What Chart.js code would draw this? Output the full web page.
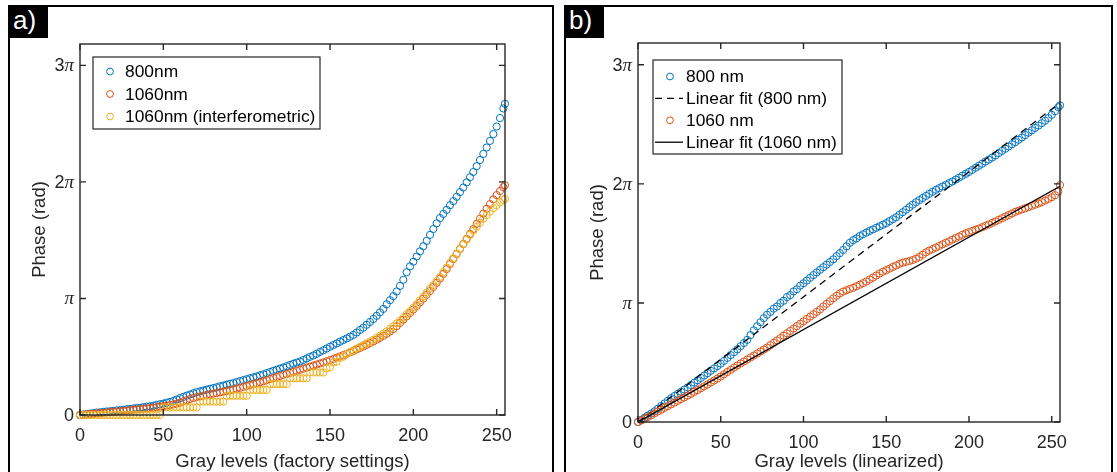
<!DOCTYPE html>
<html lang="en">
<head>
<meta charset="UTF-8">
<title>Phase vs gray levels</title>
<script src="https://cdn.jsdelivr.net/npm/chart.js@4.4.0/dist/chart.umd.min.js"></script>
<style>
  body { margin:0; background:#fff; width:1117px; height:472px; overflow:hidden; position:relative; font-family:"Liberation Sans", Arial, sans-serif; }
  .frame { position:absolute; top:5px; height:480px; border:2px solid #000; box-sizing:border-box; }
  .tag { position:absolute; top:5px; width:40px; height:33px; background:#000; color:#fff; font-size:26px; line-height:31px; padding-left:5px; box-sizing:border-box; }
  .box { position:absolute; top:0; height:472px; }
</style>
</head>
<body>
<div class="frame" style="left:8px;width:546px"></div>
<div class="frame" style="left:564px;width:549px"></div>
<div class="tag" style="left:8px">a)</div>
<div class="tag" style="left:564px">b)</div>
<div class="box" style="left:0;width:558px"><canvas id="chartA"></canvas></div>
<div class="box" style="left:558px;width:559px"><canvas id="chartB"></canvas></div>
<script>
// gray levels (every 2nd level + 255), phase values in units of pi
const grayLevels = [0,2,4,6,8,10,12,14,16,18,20,22,24,26,28,30,32,34,36,38,40,42,44,46,48,50,52,54,56,58,
  60,62,64,66,68,70,72,74,76,78,80,82,84,86,88,90,92,94,96,98,100,102,104,106,108,110,112,114,116,118,
  120,122,124,126,128,130,132,134,136,138,140,142,144,146,148,150,152,154,156,158,160,162,164,166,168,170,172,174,176,178,
  180,182,184,186,188,190,192,194,196,198,200,202,204,206,208,210,212,214,216,218,220,222,224,226,228,230,232,234,236,238,
  240,242,244,246,248,250,252,254,255];

// a) factory settings
const phase800a = [0.000,0.004,0.008,0.012,0.016,0.021,0.023,0.027,0.031,0.032,
  0.036,0.040,0.041,0.045,0.050,0.052,0.056,0.060,0.062,0.067,
  0.072,0.075,0.080,0.087,0.092,0.098,0.106,0.112,0.121,0.133,
  0.145,0.155,0.166,0.176,0.187,0.196,0.203,0.210,0.218,0.225,
  0.231,0.238,0.246,0.253,0.260,0.268,0.274,0.283,0.291,0.299,
  0.307,0.315,0.323,0.331,0.341,0.349,0.359,0.369,0.379,0.388,
  0.399,0.408,0.419,0.430,0.440,0.450,0.459,0.472,0.485,0.499,
  0.511,0.525,0.541,0.555,0.570,0.586,0.600,0.614,0.629,0.643,
  0.657,0.672,0.687,0.708,0.730,0.749,0.774,0.798,0.824,0.851,
  0.881,0.910,0.950,0.985,1.020,1.060,1.108,1.160,1.225,1.275,
  1.315,1.360,1.404,1.448,1.494,1.545,1.596,1.645,1.690,1.725,
  1.760,1.800,1.835,1.872,1.912,1.952,1.996,2.040,2.085,2.135,
  2.188,2.240,2.295,2.352,2.410,2.475,2.548,2.630,2.670];
const phase1060a = [0.000,0.003,0.005,0.008,0.011,0.013,0.016,0.019,0.021,0.024,
  0.027,0.029,0.032,0.035,0.037,0.041,0.044,0.047,0.050,0.053,
  0.056,0.059,0.063,0.068,0.072,0.076,0.080,0.085,0.090,0.098,
  0.106,0.118,0.127,0.137,0.146,0.154,0.160,0.166,0.172,0.178,
  0.183,0.188,0.194,0.200,0.206,0.212,0.219,0.226,0.233,0.241,
  0.249,0.257,0.265,0.273,0.281,0.290,0.299,0.308,0.317,0.326,
  0.335,0.344,0.352,0.361,0.370,0.379,0.388,0.397,0.406,0.415,
  0.424,0.433,0.442,0.451,0.461,0.471,0.481,0.492,0.503,0.514,
  0.525,0.537,0.549,0.562,0.575,0.588,0.602,0.616,0.631,0.646,
  0.662,0.679,0.697,0.716,0.738,0.762,0.790,0.818,0.846,0.875,
  0.905,0.935,0.966,0.998,1.031,1.064,1.099,1.134,1.170,1.210,
  1.252,1.295,1.338,1.381,1.425,1.468,1.511,1.554,1.596,1.640,
  1.684,1.728,1.770,1.810,1.850,1.887,1.922,1.955,1.972];
const phase1060i = [0,0,0,0,0,0,0,0,0,0,
  0,0,0,0,0,0,0,0,0,0,
  0,0,0,0,0,0.065,0.065,0.065,0.065,0.065,
  0.065,0.065,0.065,0.065,0.065,0.065,0.115,0.115,0.115,0.115,
  0.115,0.115,0.115,0.115,0.165,0.165,0.165,0.165,0.165,0.165,
  0.165,0.215,0.215,0.215,0.215,0.215,0.215,0.265,0.265,0.265,
  0.265,0.265,0.265,0.315,0.315,0.315,0.315,0.315,0.315,0.365,
  0.365,0.365,0.365,0.365,0.400,0.410,0.450,0.458,0.490,0.500,
  0.525,0.540,0.555,0.570,0.585,0.600,0.615,0.630,0.645,0.662,
  0.680,0.698,0.718,0.740,0.760,0.785,0.810,0.835,0.865,0.890,
  0.920,0.950,0.985,1.015,1.050,1.085,1.115,1.150,1.185,1.225,
  1.265,1.305,1.345,1.385,1.425,1.465,1.505,1.545,1.580,1.615,
  1.650,1.685,1.715,1.745,1.775,1.800,1.825,1.845,1.855];

// b) linearized
const phase800b = [0.000,0.018,0.036,0.054,0.072,0.090,0.112,0.134,0.156,0.178,
  0.200,0.218,0.236,0.254,0.272,0.290,0.310,0.330,0.350,0.370,
  0.390,0.410,0.430,0.450,0.470,0.490,0.514,0.538,0.562,0.586,
  0.610,0.637,0.663,0.690,0.730,0.770,0.804,0.838,0.872,0.901,
  0.925,0.952,0.970,0.999,1.018,1.049,1.066,1.097,1.115,1.145,
  1.165,1.188,1.211,1.234,1.256,1.278,1.300,1.322,1.344,1.366,
  1.393,1.418,1.445,1.475,1.505,1.527,1.542,1.562,1.577,1.591,
  1.605,1.618,1.631,1.644,1.657,1.670,1.687,1.703,1.720,1.741,
  1.762,1.783,1.804,1.825,1.846,1.864,1.881,1.899,1.916,1.933,
  1.950,1.964,1.978,1.992,2.006,2.020,2.036,2.052,2.068,2.084,
  2.100,2.117,2.135,2.152,2.169,2.187,2.204,2.221,2.239,2.258,
  2.277,2.295,2.314,2.333,2.351,2.370,2.390,2.410,2.430,2.450,
  2.470,2.490,2.510,2.530,2.553,2.580,2.610,2.643,2.660];
const phase1060b = [0.000,0.013,0.027,0.042,0.057,0.073,0.088,0.103,0.118,0.133,
  0.148,0.163,0.178,0.193,0.207,0.222,0.237,0.253,0.268,0.284,
  0.300,0.315,0.332,0.348,0.365,0.383,0.401,0.420,0.438,0.456,
  0.475,0.492,0.508,0.525,0.542,0.558,0.575,0.592,0.608,0.625,
  0.645,0.665,0.685,0.705,0.725,0.745,0.765,0.785,0.805,0.825,
  0.845,0.865,0.885,0.905,0.925,0.945,0.970,0.992,1.015,1.038,
  1.060,1.080,1.095,1.107,1.117,1.127,1.140,1.153,1.166,1.180,
  1.197,1.213,1.230,1.247,1.262,1.275,1.288,1.302,1.315,1.328,
  1.338,1.345,1.352,1.360,1.372,1.386,1.405,1.425,1.440,1.452,
  1.465,1.478,1.492,1.505,1.518,1.532,1.545,1.558,1.572,1.585,
  1.595,1.605,1.615,1.625,1.636,1.648,1.659,1.672,1.685,1.698,
  1.712,1.725,1.738,1.752,1.765,1.775,1.785,1.795,1.805,1.815,
  1.825,1.835,1.847,1.860,1.873,1.888,1.905,1.935,1.990];

const fitX = [0, 255];
const fit800 = [0.0, 2.68];
const fit1060 = [0.0, 1.98];

const xTicks = [0, 50, 100, 150, 200, 250];
const yTicks = [0, 1, 2, 3];
const yTickDigits = ['0', '', '2', '3'];

const BLUE = '#0072BD', ORANGE = '#D95319', YELLOW = '#EDB120', AXIS = '#262626';
const FONT = '"Liberation Sans", Arial, sans-serif';

function pts(xs, ys) { return xs.map((x, i) => ({ x: x, y: ys[i] })); }

function markers(label, ys, color, order) {
  return { label: label, data: pts(grayLevels, ys), borderColor: color, backgroundColor: 'rgba(0,0,0,0)',
    pointRadius: 3.6, pointBorderWidth: 1, pointHoverRadius: 3.6, showLine: false, clip: false, order: order };
}
function fitLine(label, ys, dash, order) {
  return { label: label, data: pts(fitX, ys), type: 'line', borderColor: '#000', borderWidth: 1.3,
    borderDash: dash, pointRadius: 0, fill: false, order: order };
}

// box round the axes with inward ticks on all four sides, and the pi tick labels
const matlabAxes = {
  id: 'matlabAxes',
  afterDatasetsDraw(chart) {
    const { ctx, chartArea: a, scales: { x, y } } = chart;
    ctx.save();
    ctx.strokeStyle = AXIS;
    ctx.lineWidth = 1.4;
    ctx.strokeRect(a.left, a.top, a.right - a.left, a.bottom - a.top);
    ctx.beginPath();
    x.ticks.forEach(t => {
      const px = x.getPixelForValue(t.value);
      ctx.moveTo(px, a.bottom); ctx.lineTo(px, a.bottom - 6);
      ctx.moveTo(px, a.top); ctx.lineTo(px, a.top + 6);
    });
    y.ticks.forEach(t => {
      const py = y.getPixelForValue(t.value);
      ctx.moveTo(a.left, py); ctx.lineTo(a.left + 6, py);
      ctx.moveTo(a.right, py); ctx.lineTo(a.right - 6, py);
    });
    ctx.stroke();
    // y tick labels: sans digit + italic serif pi
    ctx.fillStyle = AXIS;
    ctx.textBaseline = 'middle';
    ctx.textAlign = 'left';
    const sans = '18px ' + FONT, serif = 'italic 19px "Liberation Serif", "DejaVu Serif", serif';
    yTicks.forEach((v, i) => {
      const py = y.getPixelForValue(v);
      const digit = yTickDigits[i];
      const withPi = v !== 0;
      ctx.font = sans; const dw = ctx.measureText(digit).width;
      ctx.font = serif; const pw = withPi ? ctx.measureText('π').width : 0;
      const px = a.left - 6 - dw - pw;
      ctx.font = sans; ctx.fillText(digit, px, py + 1);
      if (withPi) { ctx.font = serif; ctx.fillText('π', px + dw, py + 1); }
    });
    ctx.restore();
  }
};

// legend drawn inside the axes with a thin frame
const boxLegend = {
  id: 'boxLegend',
  afterDraw(chart, args, o) {
    const { ctx } = chart;
    ctx.save();
    ctx.fillStyle = '#fff';
    ctx.fillRect(o.left, o.top, o.width, o.height);
    ctx.strokeStyle = AXIS;
    ctx.lineWidth = 1.2;
    ctx.strokeRect(o.left, o.top, o.width, o.height);
    ctx.font = '17.4px ' + FONT;
    ctx.textBaseline = 'middle';
    o.items.forEach((idx, k) => {
      const ds = chart.data.datasets[idx];
      const cy = o.top + o.first + k * o.step;
      if (ds.type === 'line') {
        ctx.strokeStyle = '#000';
        ctx.lineWidth = 1.3;
        ctx.setLineDash(ds.borderDash || []);
        ctx.beginPath();
        ctx.moveTo(o.left + o.sample[0], cy); ctx.lineTo(o.left + o.sample[1], cy);
        ctx.stroke();
        ctx.setLineDash([]);
      } else {
        ctx.strokeStyle = ds.borderColor;
        ctx.lineWidth = 1;
        ctx.beginPath();
        ctx.arc(o.left + o.marker, cy, 3.4, 0, Math.PI * 2);
        ctx.stroke();
      }
      ctx.fillStyle = '#000';
      ctx.fillText(ds.label, o.left + o.text, cy + 1);
    });
    ctx.restore();
  }
};

function axesOptions(xTitle, top, xHeight, padRight) {
  return {
    responsive: true,
    maintainAspectRatio: false,
    animation: false,
    events: [],
    layout: { padding: { left: 30, top: top, right: padRight, bottom: 0 } },
    scales: {
      x: {
        type: 'linear', min: 0, max: 255,
        afterBuildTicks: s => { s.ticks = xTicks.map(v => ({ value: v })); },
        afterFit: s => { s.height = xHeight; },
        grid: { display: false, drawTicks: false },
        border: { display: false },
        ticks: { color: AXIS, font: { family: FONT, size: 18 }, padding: 10, maxRotation: 0 },
        title: { display: true, text: xTitle, color: AXIS, font: { family: FONT, size: 18.5 }, padding: { top: 0, bottom: -1 } }
      },
      y: {
        type: 'linear', min: 0, max: 10 / Math.PI,
        afterBuildTicks: s => { s.ticks = yTicks.map(v => ({ value: v })); },
        afterFit: s => { s.width = 50; },
        grid: { display: false, drawTicks: false },
        border: { display: false },
        ticks: { display: false },
        title: { display: true, text: 'Phase (rad)', color: AXIS, font: { family: FONT, size: 18.5 }, padding: { top: -1, bottom: 0 } }
      }
    }
  };
}

const optsA = axesOptions('Gray levels (factory settings)', 44, 57, 53);
optsA.plugins = {
  legend: { display: false }, tooltip: { enabled: false },
  boxLegend: { left: 93, top: 57, width: 227, height: 72, first: 14.5, step: 22.5, marker: 17, text: 32, sample: [2, 30], items: [0, 1, 2] }
};
new Chart(document.getElementById('chartA'), {
  type: 'scatter',
  data: { datasets: [
    markers('800nm', phase800a, BLUE, 3),
    markers('1060nm', phase1060a, ORANGE, 2),
    markers('1060nm (interferometric)', phase1060i, YELLOW, 1)
  ] },
  options: optsA,
  plugins: [matlabAxes, boxLegend]
});

const optsB = axesOptions('Gray levels (linearized)', 43, 50, 57);
optsB.plugins = {
  legend: { display: false }, tooltip: { enabled: false },
  boxLegend: { left: 95, top: 60, width: 189, height: 94, first: 16.5, step: 21.9, marker: 17, text: 33, sample: [2, 30], items: [0, 1, 2, 3] }
};
new Chart(document.getElementById('chartB'), {
  type: 'scatter',
  data: { datasets: [
    markers('800 nm', phase800b, BLUE, 4),
    fitLine('Linear fit (800 nm)', fit800, [7, 5], 3),
    markers('1060 nm', phase1060b, ORANGE, 2),
    fitLine('Linear fit (1060 nm)', fit1060, [], 1)
  ] },
  options: optsB,
  plugins: [matlabAxes, boxLegend]
});
</script>
</body>
</html>
